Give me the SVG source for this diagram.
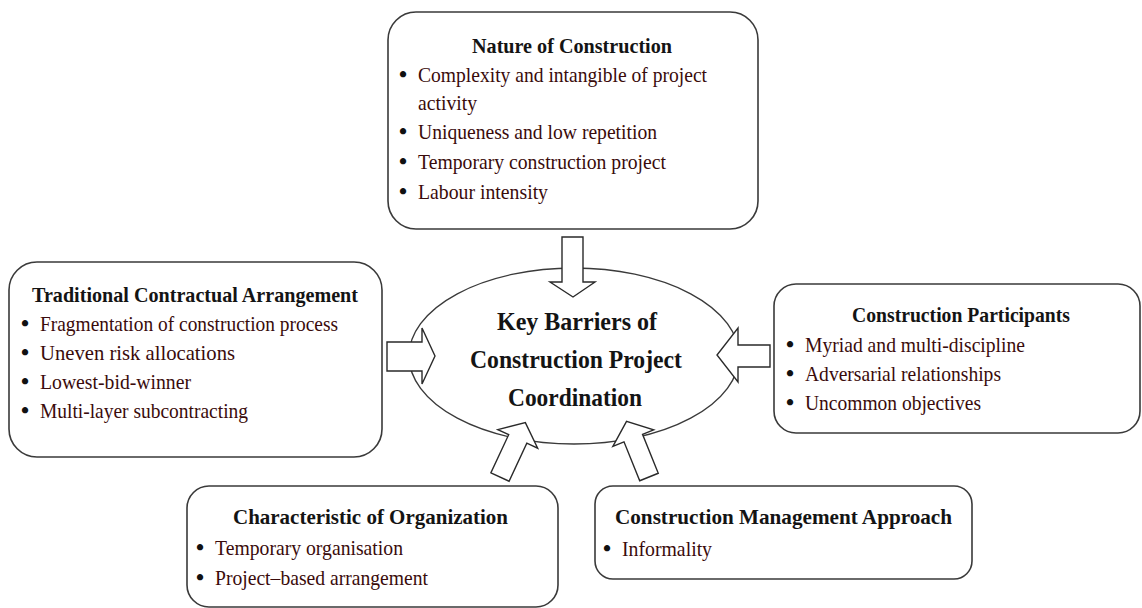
<svg xmlns="http://www.w3.org/2000/svg" width="1142" height="608" viewBox="0 0 1142 608">
<style>
.box{fill:#fff;stroke:#3a3a3a;stroke-width:1.6}
.arr{fill:#fff;stroke:#2a2a2a;stroke-width:1.4;stroke-linejoin:miter}
.ttl{font-family:"Liberation Serif","Times New Roman",serif;font-weight:bold;font-size:21px;fill:#141414;text-anchor:middle}
.itm{font-family:"Liberation Serif","Times New Roman",serif;font-size:21px;fill:#3a0b0b}
.bul{font-family:"Liberation Serif","Times New Roman",serif;font-size:23px;font-weight:bold;fill:#111}
.ctr{font-family:"Liberation Serif","Times New Roman",serif;font-weight:bold;font-size:25px;fill:#141414;text-anchor:middle}
</style>
<defs>
<polygon id="uparrow" points="-10,0 10,0 10,-42 22,-42 0,-60 -22,-42 -10,-42"/>
</defs>
<rect width="1142" height="608" fill="#fff"/>

<g id="center">
<ellipse cx="574" cy="356" rx="165" ry="88" fill="#fff" stroke="#3a3a3a" stroke-width="1.4"/>
<text class="ctr" x="577" y="330" textLength="160" lengthAdjust="spacingAndGlyphs">Key Barriers of</text>
<text class="ctr" x="576" y="368" textLength="212" lengthAdjust="spacingAndGlyphs">Construction Project</text>
<text class="ctr" x="575" y="406" textLength="134" lengthAdjust="spacingAndGlyphs">Coordination</text>
</g>

<g id="nature">
<rect class="box" x="388" y="12" width="370" height="217" rx="28"/>
<text class="ttl" x="572" y="53" textLength="200" lengthAdjust="spacingAndGlyphs">Nature of Construction</text>
<text class="bul" x="399" y="82">•</text>
<text class="itm" x="418" y="82" textLength="289" lengthAdjust="spacingAndGlyphs">Complexity and intangible of project</text>
<text class="itm" x="418" y="110" textLength="59" lengthAdjust="spacingAndGlyphs">activity</text>
<text class="bul" x="399" y="139">•</text>
<text class="itm" x="418" y="139" textLength="239" lengthAdjust="spacingAndGlyphs">Uniqueness and low repetition</text>
<text class="bul" x="399" y="169">•</text>
<text class="itm" x="418" y="169" textLength="248" lengthAdjust="spacingAndGlyphs">Temporary construction project</text>
<text class="bul" x="399" y="199">•</text>
<text class="itm" x="418" y="199" textLength="130" lengthAdjust="spacingAndGlyphs">Labour intensity</text>
</g>

<g id="traditional">
<rect class="box" x="9" y="262" width="373" height="195" rx="28"/>
<text class="ttl" x="195" y="302" textLength="326" lengthAdjust="spacingAndGlyphs">Traditional Contractual Arrangement</text>
<text class="bul" x="21" y="331">•</text>
<text class="itm" x="40" y="331" textLength="298" lengthAdjust="spacingAndGlyphs">Fragmentation of construction process</text>
<text class="bul" x="21" y="360">•</text>
<text class="itm" x="40" y="360" textLength="195" lengthAdjust="spacingAndGlyphs">Uneven risk allocations</text>
<text class="bul" x="21" y="389">•</text>
<text class="itm" x="40" y="389" textLength="151" lengthAdjust="spacingAndGlyphs">Lowest-bid-winner</text>
<text class="bul" x="21" y="418">•</text>
<text class="itm" x="40" y="418" textLength="208" lengthAdjust="spacingAndGlyphs">Multi-layer subcontracting</text>
</g>

<g id="participants">
<rect class="box" x="774" y="284" width="366" height="149" rx="22"/>
<text class="ttl" x="961" y="322" textLength="218" lengthAdjust="spacingAndGlyphs">Construction Participants</text>
<text class="bul" x="786" y="352">•</text>
<text class="itm" x="805" y="352" textLength="220" lengthAdjust="spacingAndGlyphs">Myriad and multi-discipline</text>
<text class="bul" x="786" y="381">•</text>
<text class="itm" x="805" y="381" textLength="196" lengthAdjust="spacingAndGlyphs">Adversarial relationships</text>
<text class="bul" x="786" y="410">•</text>
<text class="itm" x="805" y="410" textLength="176" lengthAdjust="spacingAndGlyphs">Uncommon objectives</text>
</g>

<g id="organization">
<rect class="box" x="187" y="486" width="371" height="121" rx="22"/>
<text class="ttl" x="370.5" y="524" textLength="275" lengthAdjust="spacingAndGlyphs">Characteristic of Organization</text>
<text class="bul" x="196" y="555">•</text>
<text class="itm" x="215" y="555" textLength="188" lengthAdjust="spacingAndGlyphs">Temporary organisation</text>
<text class="bul" x="196" y="585">•</text>
<text class="itm" x="215" y="585" textLength="213" lengthAdjust="spacingAndGlyphs">Project–based arrangement</text>
</g>

<g id="management">
<rect class="box" x="595" y="486" width="377" height="93" rx="18"/>
<text class="ttl" x="783.5" y="524" textLength="337" lengthAdjust="spacingAndGlyphs">Construction Management Approach</text>
<text class="bul" x="603" y="556">•</text>
<text class="itm" x="622" y="556" textLength="90" lengthAdjust="spacingAndGlyphs">Informality</text>
</g>

<g id="connectors">
<polygon class="arr" points="562,237 583,237 583,282 595,282 573,297 550,282 562,282"/>
<polygon class="arr" points="387,342 422,342 422,328 435,356 422,384 422,371 387,371"/>
<polygon class="arr" points="770,345 738,345 738,328 717,355 738,382 738,367 770,367"/>
<use href="#uparrow" class="arr" transform="translate(500,477) rotate(25)"/>
<use href="#uparrow" class="arr" transform="translate(649,477) rotate(-22)"/>
</g>
</svg>
